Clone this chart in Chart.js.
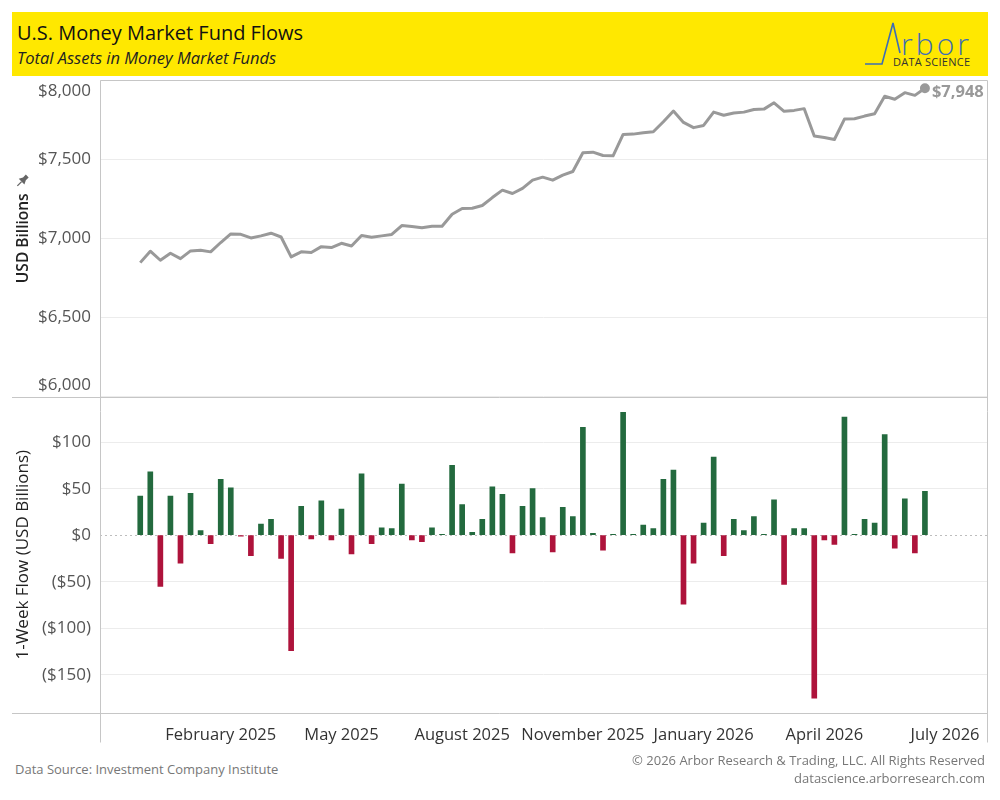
<!DOCTYPE html>
<html>
<head>
<meta charset="utf-8">
<script src="https://cdn.jsdelivr.net/npm/chart.js@4/dist/chart.umd.min.js"></script>
<style>
  body { margin: 0; width: 1000px; height: 800px; background: #fff; font-family: "Open Sans", sans-serif; position: relative; overflow: hidden; }
  #header { position: absolute; left: 12px; top: 12px; width: 976px; height: 64px; background: #ffe800; }
  #title { position: absolute; left: 5px; top: 7px; font-size: 20px; color: #111; }
  #subtitle { position: absolute; left: 5px; top: 34px; font-size: 16.5px; font-style: italic; color: #222; }
  #logo { position: absolute; left: 850px; top: 10px; }
  #wrap { position: absolute; left: 0; top: 70px; width: 1000px; height: 690px; }
  .foot { position: absolute; font-size: 13px; color: #777; }
</style>
</head>
<body>
<div id="header">
  <div id="title">U.S. Money Market Fund Flows</div>
  <div id="subtitle">Total Assets in Money Market Funds</div>
</div>
<svg id="logo" width="130" height="64">
  <polyline points="15,54 32,54 43,13 50,43" fill="none" stroke="#3d6db5" stroke-width="1.6"/>
  <text x="51" y="45" font-family="Open Sans" font-size="30" fill="#3d6db5" font-weight="300" textLength="68">rbor</text>
  <text x="43" y="56" font-family="Open Sans" font-size="11" fill="#333" textLength="77">DATA SCIENCE</text>
</svg>
<div id="wrap"><canvas id="myChart"></canvas></div>
<div class="foot" style="left:15px; top:760px;">Data Source: Investment Company Institute</div>
<div class="foot" style="right:15px; top:751px; text-align:right;">© 2026 Arbor Research &amp; Trading, LLC. All Rights Reserved</div>
<div class="foot" style="right:15px; top:769px; text-align:right;">datascience.arborresearch.com</div>

<script>
// total assets, USD billions, one point per week
const totalAssets = [
  6846, 6918, 6861, 6905, 6871, 6920, 6924, 6914, 6973, 7027,
  7025, 7002, 7015, 7032, 7008, 6882, 6914, 6910, 6947, 6941,
  6968, 6951, 7017, 7006, 7015, 7024, 7080, 7074, 7066, 7076,
  7076, 7152, 7188, 7190, 7207, 7257, 7304, 7283, 7315, 7367,
  7386, 7367, 7399, 7422, 7540, 7544, 7523, 7521, 7656, 7658,
  7667, 7673, 7736, 7804, 7732, 7699, 7713, 7797, 7777, 7791,
  7797, 7814, 7816, 7856, 7802, 7808, 7819, 7646, 7637, 7624,
  7753, 7755, 7772, 7787, 7897, 7878, 7920, 7903, 7948
];

// 1-week flows, USD billions
const weeklyFlows = [
  42, 68, -55, 42, -30, 45, 5, -9, 60, 51,
  -1, -22, 12, 17, -25, -124, 31, -4, 37, -5,
  28, -20, 66, -9, 8, 7, 55, -5, -7, 8,
  1, 75, 33, 3, 17, 52, 44, -19, 31, 50,
  19, -18, 30, 20, 116, 2, -16, 1, 132, 1,
  11, 7, 60, 70, -74, -30, 13, 84, -22, 17,
  5, 20, 1, 38, -53, 7, 7, -175, -5, -10,
  127, 1, 17, 13, 108, -14, 39, -19, 47
];

// month labels and the week they sit on
const monthLabels = ['February 2025', 'May 2025', 'August 2025', 'November 2025', 'January 2026', 'April 2026', 'July 2026'];
const monthLabelWeeks = [8, 20, 32, 44, 56, 68, 80];

const topTicks = [6000, 6500, 7000, 7500, 8000];
const bottomTicks = [-150, -100, -50, 0, 50, 100];

const GREEN = '#236a3e';
const RED = '#ae133b';
const GRID = '#ececec';
const FRAME = '#c6c6c6';

const money = v => '$' + Math.abs(v).toLocaleString('en-US');

// keep label overhang from pushing the plot area around
const noPad = s => { s.paddingTop = 0; s.paddingBottom = 0; s.paddingLeft = 0; s.paddingRight = 0; };

// frame lines, zero line, end label, pin
const extras = {
  id: 'extras',
  beforeDatasetsDraw(chart) {
    const ctx = chart.ctx;
    const yb = chart.scales.yBot;
    const a = chart.chartArea;
    const y0 = Math.round(yb.getPixelForValue(0)) + 0.5;
    ctx.save();
    ctx.strokeStyle = '#bdbdbd';
    ctx.setLineDash([2, 3]);
    ctx.lineWidth = 1;
    ctx.beginPath();
    ctx.moveTo(a.left, y0);
    ctx.lineTo(a.right, y0);
    ctx.stroke();
    ctx.restore();
  },
  afterDraw(chart) {
    const ctx = chart.ctx;
    const a = chart.chartArea;
    const yt = chart.scales.yTop;
    const sep = Math.round(yt.bottom) + 0.5;
    const L = Math.round(a.left) + 0.5, R = Math.round(a.right) + 0.5;
    const T = Math.round(a.top) + 0.5, B = Math.round(a.bottom) + 0.5;
    ctx.save();
    ctx.strokeStyle = FRAME;
    ctx.lineWidth = 1;
    ctx.beginPath();
    ctx.moveTo(L, T); ctx.lineTo(R, T);
    ctx.moveTo(12, sep); ctx.lineTo(R, sep);
    ctx.moveTo(12, B); ctx.lineTo(R, B);
    ctx.moveTo(L, T); ctx.lineTo(L, B + 29);
    ctx.moveTo(R, T); ctx.lineTo(R, B + 29);
    ctx.stroke();

    // last value label
    const meta = chart.getDatasetMeta(0);
    const last = meta.data[meta.data.length - 1];
    ctx.fillStyle = '#999';
    ctx.font = 'bold 16.5px "Open Sans"';
    ctx.textBaseline = 'middle';
    ctx.textAlign = 'left';
    ctx.fillText(money(totalAssets[totalAssets.length - 1]), last.x + 7, last.y + 4);

    // little pin next to the top axis title
    const px = 23, py = (yt.top + yt.bottom) / 2 - 58;
    ctx.translate(px, py);
    ctx.rotate(Math.PI / 4);
    ctx.fillStyle = '#666';
    ctx.strokeStyle = '#666';
    ctx.lineWidth = 1.3;
    ctx.beginPath();
    ctx.moveTo(0, 2); ctx.lineTo(0, 8);
    ctx.stroke();
    ctx.beginPath();
    ctx.moveTo(-4, 2); ctx.lineTo(4, 2); ctx.lineTo(2, -2); ctx.lineTo(2, -6);
    ctx.lineTo(-2, -6); ctx.lineTo(-2, -2); ctx.closePath();
    ctx.fill();
    ctx.restore();
  }
};

const ctx = document.getElementById('myChart').getContext('2d');

new Chart(ctx, {
  data: {
    datasets: [{
      type: 'line',
      label: 'Total Assets',
      data: totalAssets.map((v, i) => ({ x: i, y: v })),
      yAxisID: 'yTop',
      borderColor: '#999',
      backgroundColor: '#999',
      borderWidth: 3,
      borderJoinStyle: 'round',
      tension: 0,
      pointRadius: c => c.dataIndex === totalAssets.length - 1 ? 3.5 : 0,
      pointHoverRadius: 0
    }, {
      type: 'bar',
      label: '1-Week Flow',
      data: weeklyFlows.map((v, i) => ({ x: i, y: v })),
      yAxisID: 'yBot',
      backgroundColor: c => (c.raw && c.raw.y < 0) ? RED : GREEN,
      barThickness: 5
    }]
  },
  options: {
    responsive: true,
    maintainAspectRatio: false,
    animation: false,
    layout: { padding: { top: 10, right: 13, left: 0, bottom: 0 } },
    plugins: {
      legend: { display: false },
      tooltip: { enabled: false }
    },
    scales: {
      x: {
        type: 'linear',
        offset: false,
        min: -4,
        max: 84.17,
        grid: { display: false },
        border: { display: false },
        afterBuildTicks: s => { s.ticks = monthLabelWeeks.map(v => ({ value: v })); },
        afterFit: s => { s.height = 47; noPad(s); },
        ticks: {
          autoSkip: false,
          maxRotation: 0,
          padding: 4,
          color: '#333',
          font: { family: 'Open Sans', size: 16.5 },
          callback: v => monthLabels[monthLabelWeeks.indexOf(v)] || ''
        }
      },
      yTop: {
        type: 'linear',
        position: 'left',
        stack: 'panels',
        stackWeight: 1,
        weight: 2,
        min: 6000,
        max: 8000,
        afterBuildTicks: s => { s.ticks = topTicks.map(v => ({ value: v })); },
        afterFit: s => { s.width = 100; noPad(s); },
        grid: { color: GRID, drawTicks: false },
        border: { display: false },
        title: {
          display: true,
          text: 'USD Billions',
          color: '#222',
          font: { family: 'Open Sans', size: 15.5, weight: '600' },
          padding: { top: 14 }
        },
        ticks: {
          autoSkip: false,
          padding: 9,
          color: '#555',
          font: { family: 'Open Sans', size: 17, lineHeight: 1.3 },
          callback: v => v === 8000 ? ['', money(v)] : v === 6000 ? [money(v), ''] : money(v)
        }
      },
      yBot: {
        type: 'linear',
        position: 'left',
        stack: 'panels',
        stackWeight: 1,
        weight: 1,
        min: -191,
        max: 149,
        afterBuildTicks: s => { s.ticks = bottomTicks.map(v => ({ value: v })); },
        afterFit: s => { s.width = 100; noPad(s); },
        grid: { color: c => c.tick && c.tick.value === 0 ? 'rgba(0,0,0,0)' : GRID, drawTicks: false },
        border: { display: false },
        title: {
          display: true,
          text: '1-Week Flow (USD Billions)',
          color: '#222',
          font: { family: 'Open Sans', size: 17 },
          padding: { top: 13 }
        },
        ticks: {
          autoSkip: false,
          padding: 9,
          color: '#555',
          font: { family: 'Open Sans', size: 17 },
          callback: v => v < 0 ? '(' + money(v) + ')' : money(v)
        }
      }
    }
  },
  plugins: [extras]
});
</script>
</body>
</html>
